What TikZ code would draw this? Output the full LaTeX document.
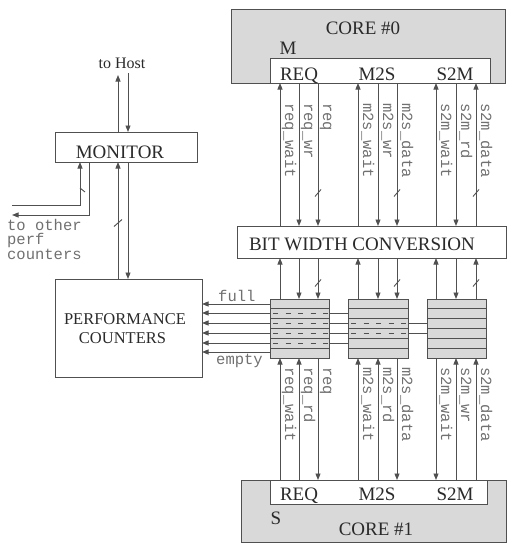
\documentclass[tikz,border=0pt]{standalone}
\usepackage{fontspec}
\setmainfont{Liberation Serif}
\setmonofont{Liberation Mono}
\usetikzlibrary{arrows.meta}
\definecolor{ln}{HTML}{505050}
\definecolor{fillg}{HTML}{D9D9D9}
\definecolor{labg}{HTML}{707070}
\definecolor{txtc}{HTML}{2A2A2A}
\begin{document}
\begin{tikzpicture}[x=1pt,y=-1pt,
  >={Triangle[length=6.5pt,width=5pt]},
  box/.style={draw=ln, line width=0.9pt, inner sep=0pt, outer sep=0pt},
  wire/.style={draw=ln, line width=0.9pt},
  ttl/.style={font=\ttfamily\fontsize{15.5}{15}\selectfont, text=labg, inner sep=0pt},
  sig/.style={ttl, rotate=-90, anchor=south west, text depth=3.5pt},
  txt/.style={font=\fontsize{19}{22}\selectfont, text=txtc, inner sep=0pt, anchor=base},
  stxt/.style={font=\fontsize{16.5}{20}\selectfont, text=txtc, inner sep=0pt, anchor=base},
  dsh/.style={draw=ln, line width=0.9pt, dash pattern=on 5pt off 7.5pt}
]
\useasboundingbox (0,0) rectangle (513,543);

% ---------- core boxes ----------
\node[box, fill=fillg, minimum width=274pt, minimum height=74pt] (core0) at (368,46) {};
\node[box, fill=white, minimum width=220pt, minimum height=25pt] (core0in) at (380,70.5) {};
\node[txt] (c0t) at (363,35) {CORE \#0};
\node[txt] (c0m) at (288,55) {M};
\node[txt] (c0r) at (299,80) {REQ};
\node[txt] (c0a) at (377,80) {M2S};
\node[txt] (c0b) at (455,80) {S2M};

\node[box, fill=fillg, minimum width=265pt, minimum height=62pt] (core1) at (373.5,511) {};
\node[box, fill=white, minimum width=217pt, minimum height=24pt] (core1in) at (378.5,492) {};
\node[txt] (c1r) at (299,500) {REQ};
\node[txt] (c1a) at (377,500) {M2S};
\node[txt] (c1b) at (455,500) {S2M};
\node[txt] (c1s) at (276,524) {S};
\node[txt] (c1t) at (376,535) {CORE \#1};

% ---------- bit width conversion ----------
\node[box, fill=white, minimum width=269pt, minimum height=32pt] (bwc) at (371.5,242) {};
\node[txt] (bwct) at (362,250) {BIT WIDTH CONVERSION};

% ---------- columns ----------
\foreach \i/\xx in {1/280,2/299,3/318,4/358,5/378,6/397,7/436,8/456,9/476}
  \coordinate (c\i) at (\xx,0);

% ---------- perf counter arrows (under FIFOs) ----------
\node[box, minimum width=147pt, minimum height=98pt] (perf) at (128.5,328) {};
\node[stxt] (perft1) at (125,324) {PERFORMANCE};
\node[stxt] (perft2) at (122.5,343) {COUNTERS};

\coordinate (fifoa) at (299.5,328.5);
\coordinate (fifob) at (378,328.5);
\coordinate (fifoc) at (456.5,328.5);
\foreach \yy/\f in {304/fifoa,352/fifoa,313/fifob,343/fifob,323/fifoc,333/fifoc}
  \draw[wire,->] (\f |- 0,\yy) ++(-29.5,0) -- (perf.east |- 0,\yy);

% ---------- FIFOs ----------
\node[box, fill=fillg, minimum width=59pt, minimum height=59pt] (fifo1) at (fifoa) {};
\node[box, fill=fillg, minimum width=60pt, minimum height=59pt] (fifo2) at (fifob) {};
\node[box, fill=fillg, minimum width=59pt, minimum height=59pt] (fifo3) at (fifoc) {};
\foreach \f in {fifo1,fifo2,fifo3}
  \foreach \yy in {308.8,318.6,328.5,338.3,348.1}
    \draw[wire] (\f.west |- 0,\yy) -- (\f.east |- 0,\yy);
\foreach \yy in {313,323,333,343}
  \draw[dsh] (fifo1.west |- 0,\yy) ++(3,0) -- (fifo1.east |- 0,\yy);
\foreach \yy in {323,333}
  \draw[dsh] (fifo2.west |- 0,\yy) ++(3,0) -- (fifo2.east |- 0,\yy);

\node[ttl, anchor=base west] (lfull) at (218,301) {full};
\node[ttl, anchor=base west] (lempty) at (216,364) {empty};

% ---------- core0 <-> bwc ----------
\foreach \i in {1,4,7,9}
  \draw[wire,->] (c\i |- bwc.north) -- (c\i |- core0in.south);
\foreach \i in {2,3,5,6,8}
  \draw[wire,->] (c\i |- core0in.south) -- (c\i |- bwc.north);

% ---------- bwc <-> fifo ----------
\foreach \i/\f in {1/fifo1,4/fifo2,7/fifo3,9/fifo3}
  \draw[wire,->] (c\i |- \f.north) -- (c\i |- bwc.south);
\foreach \i/\f in {2/fifo1,3/fifo1,5/fifo2,6/fifo2,8/fifo3}
  \draw[wire,->] (c\i |- bwc.south) -- (c\i |- \f.north);

% ---------- fifo <-> core1 ----------
\foreach \i/\f in {1/fifo1,2/fifo1,4/fifo2,5/fifo2,8/fifo3,9/fifo3}
  \draw[wire,->] (c\i |- core1in.north) -- (c\i |- \f.south);
\foreach \i/\f in {3/fifo1,6/fifo2,7/fifo3}
  \draw[wire,->] (c\i |- \f.south) -- (c\i |- core1in.north);

% ---------- bus slashes ----------
\foreach \i in {3,6,9}{
  \draw[wire] (c\i |- 0,193) ++(-3,3.5) -- ++(6,-7);
  \draw[wire] (c\i |- 0,283) ++(-3,3.5) -- ++(6,-7);
}

% ---------- signal labels ----------
\foreach \i/\t in {1/req\_wait,2/req\_wr,3/req,4/m2s\_wait,5/m2s\_wr,6/m2s\_data,7/s2m\_wait,8/s2m\_rd,9/s2m\_data}
  \node[sig] (u\i) at ([xshift=1.5pt]c\i |- 0,103) {\t};
\foreach \i/\t in {1/req\_wait,2/req\_rd,3/req,4/m2s\_wait,5/m2s\_rd,6/m2s\_data,7/s2m\_wait,8/s2m\_wr,9/s2m\_data}
  \node[sig] (d\i) at ([xshift=1.5pt]c\i |- 0,367) {\t};

% ---------- monitor ----------
\node[box, minimum width=142pt, minimum height=30pt] (mon) at (126,147) {};
\node[txt] (mont) at (120,158) {MONITOR};
\node[stxt, font=\fontsize{16}{18}\selectfont] (host) at (122,68) {to Host};
\coordinate (m1) at (118,75);
\coordinate (m2) at (128,73);
\draw[wire,->] (mon.north -| m1) -- (m1);
\draw[wire,->] (m2) -- (mon.north -| m2);
\draw[wire,->] (perf.north -| m1) -- (mon.south -| m1);
\draw[wire,->] (mon.south -| m2) -- (perf.north -| m2);
\draw[wire] (m1 |- 0,223) ++(-4,3.5) -- ++(8,-7);

\coordinate (o1) at (12,205);
\coordinate (o2) at (12,215);
\draw[wire,->] (o1) -| (mon.south -| 80,0);
\draw[wire,->] (mon.south -| 89,0) |- (o2);
\draw[wire] (80,188) -- ++(5,4);

\node[ttl, anchor=base west] (oth1) at (7,230) {to other};
\node[ttl, anchor=base west] (oth2) at (7,244) {perf};
\node[ttl, anchor=base west] (oth3) at (7,259) {counters};
\end{tikzpicture}
\end{document}
